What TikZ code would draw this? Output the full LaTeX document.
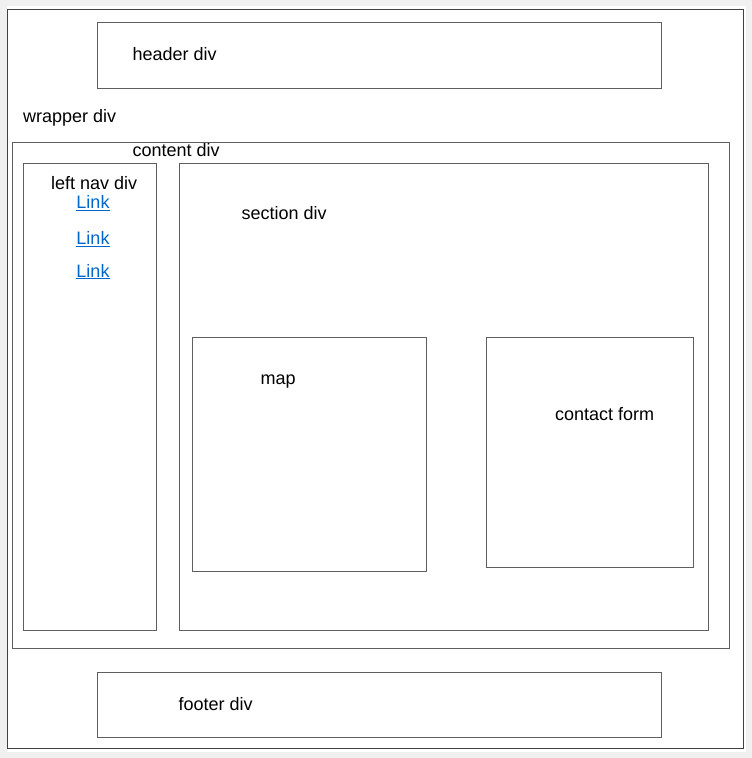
\documentclass[tikz,border=0pt]{standalone}
\usepackage{fontspec}
\setmainfont{Liberation Sans}
\usetikzlibrary{positioning}

\definecolor{pagegray}{RGB}{240,240,240}
\definecolor{boxline}{RGB}{95,95,95}
\definecolor{outerline}{RGB}{65,65,65}
\definecolor{linkblue}{RGB}{0,102,204}

\tikzset{
  divbox/.style={draw=boxline,line width=1pt},
  divlabel/.style={anchor=base west,inner sep=0pt,font=\fontsize{18}{21}\selectfont},
  navlink/.style={anchor=base,inner sep=0pt,text=linkblue,font=\fontsize{18}{21}\selectfont}
}

\begin{document}
\begin{tikzpicture}[x=1pt,y=-1pt]
       \useasboundingbox (0,0) rectangle (752,758);

       % page and wrapper
       \coordinate (WA) at (7.7,9);
       \coordinate (WB) at (743.3,748.5);
       % header and footer
       \coordinate (HA) at (97.5,22.5);
       \coordinate (HB) at (661,88);
       \coordinate (FA) at (97.5,672);
       \coordinate (FB) at (661,737.5);
       % content
       \coordinate (CA) at (12,142.5);
       \coordinate (CB) at (729,648.5);
       % left nav
       \coordinate (NA) at (23.5,163.5);
       \coordinate (NB) at (156,630);
       % section
       \coordinate (SA) at (179.5,163.5);
       \coordinate (SB) at (708.5,630);
       % map and contact form
       \coordinate (MA) at (192,337.5);
       \coordinate (MB) at (426,571.5);
       \coordinate (KA) at (486,337.5);
       \coordinate (KB) at (693,567);

       \fill[pagegray] (0,0) rectangle (752,758);
       \fill[white] (6.5,6) rectangle (746,752);
       \draw[draw=outerline,line width=1pt] (WA) rectangle (WB);

       \draw[divbox] (HA) rectangle (HB);
       \draw[divbox] (FA) rectangle (FB);
       \draw[divbox] (CA) rectangle (CB);
       \draw[divbox] (NA) rectangle (NB);
       \draw[divbox] (SA) rectangle (SB);
       \draw[divbox] (MA) rectangle (MB);
       \draw[divbox] (KA) rectangle (KB);

       \node[divlabel] (header) at (132.5,60) {header div};
       \node[divlabel] (wrapper) at (23,122) {wrapper div};
       \node[divlabel] (content) at (132.5,156) {content div};
       \node[divlabel] (leftnav) at (51,189.3) {left nav div};
       \node[divlabel] (section) at (241.5,219) {section div};
       \node[divlabel] (map) at (260.5,384) {map};
       \node[divlabel] (contact) at (555,420.5) {contact form};
       \node[divlabel] (footer) at (178.5,710) {footer div};

       \node[navlink] (link1) at (93,208.5) {\underline{Link}};
       \node[navlink] (link2) at (93,244.5) {\underline{Link}};
       \node[navlink] (link3) at (93,277) {\underline{Link}};
\end{tikzpicture}
\end{document}
